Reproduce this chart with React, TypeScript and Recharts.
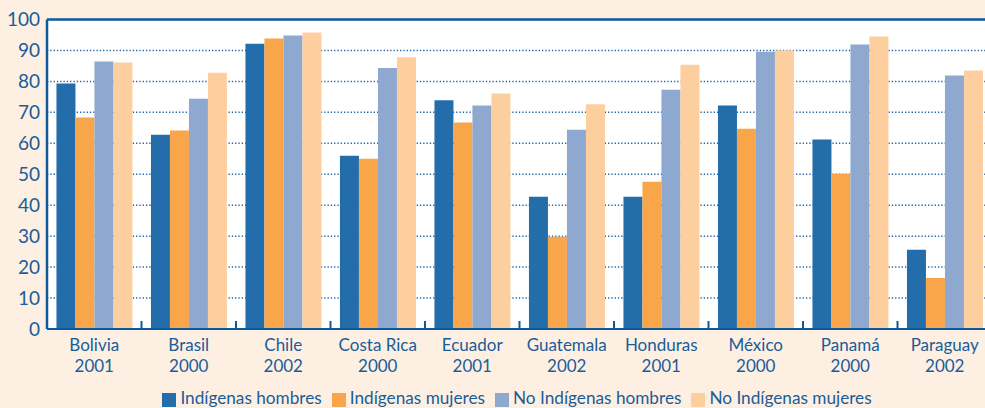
import React from 'react';
import {
  BarChart,
  Bar,
  XAxis,
  YAxis,
  CartesianGrid,
  Legend,
  ReferenceLine,
} from 'recharts';

// Countries with survey year (two-line axis labels)
const countries = ['Bolivia', 'Brasil', 'Chile', 'Costa Rica', 'Ecuador', 'Guatemala', 'Honduras', 'México', 'Panamá', 'Paraguay'];
const years = ['2001', '2000', '2002', '2000', '2001', '2002', '2001', '2000', '2000', '2002'];

const indigenasHombres = [79.3, 62.8, 92.2, 56.0, 73.9, 42.7, 42.7, 72.2, 61.2, 25.6];
const indigenasMujeres = [68.3, 64.1, 93.9, 55.0, 66.7, 29.8, 47.6, 64.7, 50.2, 16.5];
const noIndigenasHombres = [86.4, 74.4, 94.8, 84.3, 72.2, 64.4, 77.3, 89.6, 91.9, 81.9];
const noIndigenasMujeres = [86.1, 82.8, 95.8, 87.8, 76.1, 72.6, 85.4, 90.0, 94.5, 83.5];

const yTicks = [0, 10, 20, 30, 40, 50, 60, 70, 80, 90, 100];

const TEXT = '#1a5c9a';
const AXIS = '#0f5a9c';
const FONT = 'Lato, "Open Sans", sans-serif';
const BAND = 94.5;

const data = countries.map((c, i) => ({
  name: c,
  year: years[i],
  ih: indigenasHombres[i],
  im: indigenasMujeres[i],
  nih: noIndigenasHombres[i],
  nim: noIndigenasMujeres[i],
}));

function CountryTick(props: any) {
  const { x, y, payload, index } = props;
  const row = data[index] ?? data.find(d => d.name === payload.value);
  return (
    <g>
      {index > 0 && (
        <line x1={x - BAND / 2} x2={x - BAND / 2} y1={y} y2={y - 8} stroke={AXIS} strokeWidth={2} />
      )}
      <text x={x} y={y + 22} textAnchor="middle" fill={TEXT} fontSize={17} fontFamily={FONT}>
        {payload.value}
      </text>
      <text x={x} y={y + 43} textAnchor="middle" fill={TEXT} fontSize={17} fontFamily={FONT}>
        {row?.year}
      </text>
    </g>
  );
}

export default function App() {
  return (
    <div
      style={{
        position: 'absolute',
        left: 0,
        top: 0,
        width: 985,
        height: 408,
        overflow: 'hidden',
        background: '#fdf0e2',
      }}
    >
      <BarChart
        width={1000}
        height={408}
        data={data}
        margin={{ top: 19.5, right: 8, left: 0, bottom: 0 }}
        barCategoryGap="10%"
        barGap={0}
      >
        <CartesianGrid
          vertical={false}
          fill="#ffffff"
          stroke="#1f64a5"
          strokeWidth={1.5}
          strokeDasharray="1.3 2"
        />
        <XAxis
          dataKey="name"
          height={58}
          interval={0}
          tickLine={false}
          tickSize={0}
          tickMargin={0}
          axisLine={{ stroke: AXIS, strokeWidth: 2 }}
          tick={<CountryTick />}
        />
        <YAxis
          width={47}
          domain={[0, 100]}
          ticks={yTicks}
          interval={0}
          tickLine={false}
          tickSize={0}
          tickMargin={7}
          axisLine={{ stroke: AXIS, strokeWidth: 2.5 }}
          tick={{ fill: TEXT, fontSize: 19, fontFamily: FONT }}
        />
        <ReferenceLine y={100} stroke={AXIS} strokeWidth={2.5} />
        <Legend
          verticalAlign="bottom"
          iconType="square"
          iconSize={14}
          wrapperStyle={{ left: 26, fontFamily: FONT, fontSize: 17.2 }}
          formatter={(value: string) => <span style={{ color: TEXT }}>{value}</span>}
        />
        <Bar dataKey="ih" name="Indígenas hombres" fill="#236eaa" isAnimationActive={false} />
        <Bar dataKey="im" name="Indígenas mujeres" fill="#f9a64b" isAnimationActive={false} />
        <Bar dataKey="nih" name="No Indígenas hombres" fill="#8fa8cf" isAnimationActive={false} />
        <Bar dataKey="nim" name="No Indígenas mujeres" fill="#fdcf9e" isAnimationActive={false} />
      </BarChart>
    </div>
  );
}
